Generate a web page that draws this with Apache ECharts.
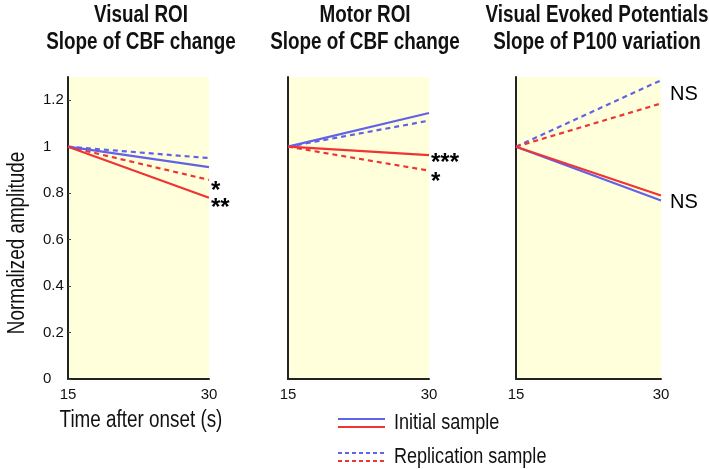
<!DOCTYPE html>
<html><head><meta charset="utf-8">
<script src="https://cdn.jsdelivr.net/npm/echarts@6/dist/echarts.min.js"></script>
<style>html,body{margin:0;padding:0;background:#fff}#c{width:709px;height:469px}</style>
</head><body><div id="c"></div>
<script>
// ---- data ----
const timePoints = [15, 30];
const yTicks = [0, 0.2, 0.4, 0.6, 0.8, 1, 1.2];
const panelTitles = [
  ['Visual ROI', 'Slope of CBF change'],
  ['Motor ROI', 'Slope of CBF change'],
  ['Visual Evoked Potentials', 'Slope of P100 variation']
];
// Visual ROI
const visualBlueInitial = [1, 0.912];
const visualRedInitial = [1, 0.780];
const visualBlueReplication = [1, 0.951];
const visualRedReplication = [1, 0.857];
// Motor ROI
const motorBlueInitial = [1, 1.145];
const motorRedInitial = [1, 0.964];
const motorBlueReplication = [1, 1.112];
const motorRedReplication = [1, 0.897];
// VEP
const vepBlueInitial = [1, 0.768];
const vepRedInitial = [1, 0.790];
const vepBlueReplication = [1, 1.286];
const vepRedReplication = [1, 1.186];
// significance marks
const visualMarks = { redReplication: '*', redInitial: '**' };
const motorMarks = { redInitial: '***', redReplication: '*' };
const vepMarks = { blueReplication: 'NS', blueInitial: 'NS' };
const legendLabels = ['Initial sample', 'Replication sample'];
const xAxisTitle = 'Time after onset (s)';
const yAxisTitle = 'Normalized amplitude';

// ---- styling ----
const FONT = "'Liberation Sans', Arial, sans-serif";
const NARROW = 0.82;
const BLUE = '#6262E8';
const RED = '#F03434';
const BG = '#FFFFDC';

const grids = [
  { left: 68, width: 141, top: 77, height: 302 },
  { left: 288, width: 141, top: 77, height: 302 },
  { left: 516, width: 145, top: 77, height: 302 }
];

const chart = echarts.init(document.getElementById('c'), null, { renderer: 'canvas' });

function pts(arr) { return arr.map((v, i) => [timePoints[i], v]); }

function lineSeries(gi, arr, color, dashed, mark, markOpts) {
  const s = {
    type: 'line', xAxisIndex: gi, yAxisIndex: gi, data: pts(arr),
    symbol: 'none',
    lineStyle: { color: color, width: 2.2, type: dashed ? [5, 4] : 'solid' },
    itemStyle: { color: color },
    silent: true, animation: false, z: dashed ? 3 : 4
  };
  if (mark) {
    s.endLabel = Object.assign({
      show: true, formatter: mark, color: '#000', fontFamily: FONT, distance: 2
    }, markOpts);
  }
  return s;
}

const starOpts = (dy) => ({ fontSize: 24, fontWeight: 'bold', offset: [0, dy] });
const nsOpts = (dy) => ({ fontSize: 20, offset: [7, dy] });

const series = [
  lineSeries(0, visualBlueReplication, BLUE, true),
  lineSeries(0, visualRedReplication, RED, true, visualMarks.redReplication, starOpts(11)),
  lineSeries(0, visualBlueInitial, BLUE, false),
  lineSeries(0, visualRedInitial, RED, false, visualMarks.redInitial, starOpts(11)),
  lineSeries(1, motorBlueReplication, BLUE, true),
  lineSeries(1, motorRedReplication, RED, true, motorMarks.redReplication, starOpts(12)),
  lineSeries(1, motorBlueInitial, BLUE, false),
  lineSeries(1, motorRedInitial, RED, false, motorMarks.redInitial, starOpts(8)),
  lineSeries(2, vepBlueReplication, BLUE, true, vepMarks.blueReplication, nsOpts(14)),
  lineSeries(2, vepRedReplication, RED, true),
  lineSeries(2, vepBlueInitial, BLUE, false, vepMarks.blueInitial, nsOpts(2)),
  lineSeries(2, vepRedInitial, RED, false)
];

const xAxes = grids.map((g, i) => ({
  type: 'value', gridIndex: i, min: 15, max: 30, interval: 15,
  axisLine: { show: true, onZero: false, lineStyle: { color: '#222', width: 2 } },
  axisTick: { show: false },
  splitLine: { show: false },
  axisLabel: { fontFamily: FONT, fontSize: 15, color: '#111', margin: 8 }
}));

const yAxes = grids.map((g, i) => ({
  type: 'value', gridIndex: i, min: 0, max: 1.3,
  axisLine: { show: true, onZero: false, lineStyle: { color: '#222', width: 2 } },
  axisTick: { show: i === 0, inside: true, length: 3, customValues: yTicks, lineStyle: { color: '#444' } },
  splitLine: { show: false },
  axisLabel: i === 0 ? {
    fontFamily: FONT, fontSize: 15, color: '#111', margin: 25, align: 'left',
    customValues: yTicks,
    formatter: v => String(Math.round(v * 10) / 10)
  } : { show: false }
}));

function narrowText(text, x, y, size, opts) {
  opts = opts || {};
  return {
    type: 'text', x: x, y: y, scaleX: NARROW, rotation: opts.rotation || 0,
    style: {
      text: text, fill: '#111',
      font: (opts.bold ? 'bold ' : '') + size + 'px ' + FONT,
      align: opts.align || 'center', verticalAlign: 'middle',
      textAlign: opts.align || 'center', textVerticalAlign: 'middle'
    },
    z: 100
  };
}

const titleCenters = [141, 365, 597];
const graphic = [];
panelTitles.forEach((t, i) => {
  graphic.push(narrowText(t[0], titleCenters[i], 16, 23, { bold: true }));
  graphic.push(narrowText(t[1], titleCenters[i], 43, 23, { bold: true }));
});
graphic.push(narrowText(xAxisTitle, 141, 421, 23));
graphic.push(narrowText(yAxisTitle, 18, 243, 23, { rotation: Math.PI / 2 }));
graphic.push(
  { type: 'line', shape: { x1: 338, y1: 419, x2: 385, y2: 419 }, style: { stroke: BLUE, lineWidth: 2 } },
  { type: 'line', shape: { x1: 338, y1: 427, x2: 385, y2: 427 }, style: { stroke: RED, lineWidth: 2 } },
  { type: 'line', shape: { x1: 338, y1: 453, x2: 385, y2: 453 }, style: { stroke: BLUE, lineWidth: 2, lineDash: [4, 3] } },
  { type: 'line', shape: { x1: 338, y1: 461, x2: 385, y2: 461 }, style: { stroke: RED, lineWidth: 2, lineDash: [4, 3] } }
);
graphic.push(narrowText(legendLabels[0], 394, 423, 22, { align: 'left' }));
graphic.push(narrowText(legendLabels[1], 394, 457, 22, { align: 'left' }));

chart.setOption({
  backgroundColor: '#fff',
  animation: false,
  grid: grids.map(g => Object.assign({ show: true, backgroundColor: BG, borderWidth: 0 }, g)),
  xAxis: xAxes,
  yAxis: yAxes,
  series: series,
  graphic: graphic
});
</script>
</body></html>
